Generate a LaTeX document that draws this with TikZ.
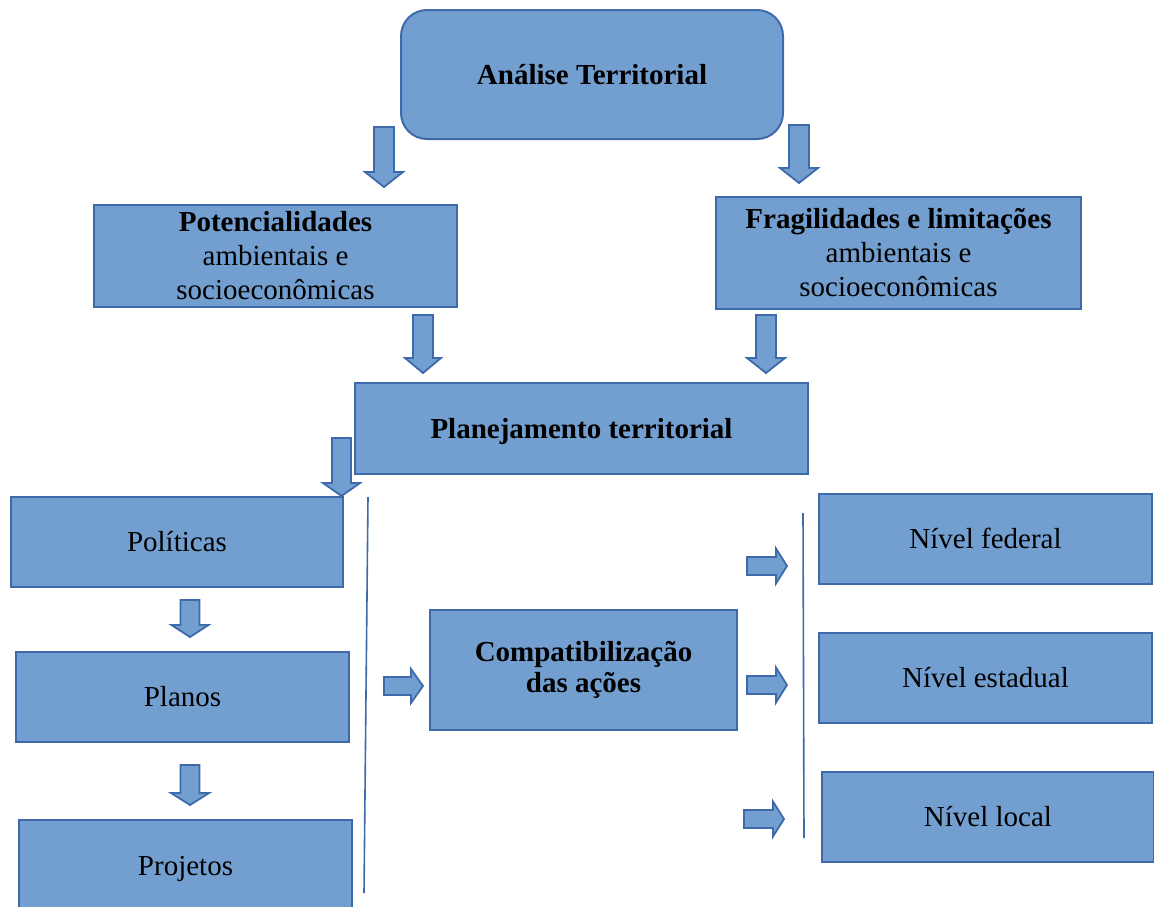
\documentclass[tikz,border=0pt]{standalone}
\usepackage{fontspec}
\setmainfont{Liberation Serif}
\definecolor{boxfill}{RGB}{114,159,207}
\definecolor{boxline}{RGB}{62,106,172}
\tikzset{
  box/.style={draw=boxline, fill=boxfill, line width=2pt, align=center, inner sep=0pt,
    font=\fontsize{29}{34}\selectfont},
  oneline/.style={box, text height=19.5pt, text depth=0pt},
  blockarrow/.style={draw=boxline, fill=boxfill, line width=1.8pt, line join=miter},
  sepline/.style={draw=boxline, line width=1.6pt}
}
% #1 cx, #2 top, #3 head start, #4 tip, #5 half head, #6 half shaft
\newcommand{\DArrow}[6]{%
  \draw[blockarrow] (#1-#6,#2) -- (#1+#6,#2) -- (#1+#6,#3) -- (#1+#5,#3) -- (#1,#4)
    -- (#1-#5,#3) -- (#1-#6,#3) -- cycle;}
% #1 left, #2 head start, #3 tip, #4 cy, #5 half head, #6 half shaft
\newcommand{\RArrow}[6]{%
  \draw[blockarrow] (#1,#4-#6) -- (#2,#4-#6) -- (#2,#4-#5) -- (#3,#4) -- (#2,#4+#5)
    -- (#2,#4+#6) -- (#1,#4+#6) -- cycle;}
\begin{document}
\begin{tikzpicture}[x=1pt,y=-1pt]
\useasboundingbox (0,0) rectangle (1154,906);
\clip (0,0) rectangle (1154,906);

% boxes
\node[oneline, rounded corners=26pt, minimum width=382pt, minimum height=129pt] (analise) at (592,74.5)
  {\textbf{Análise Territorial}};
\node[box, minimum width=363pt, minimum height=102pt] (pot) at (275.5,256)
  {\textbf{Potencialidades}\\ambientais e\\socioeconômicas};
\node[box, minimum width=365pt, minimum height=112pt] (frag) at (898.5,253)
  {\textbf{Fragilidades e limitações}\\ambientais e\\socioeconômicas};
\node[oneline, minimum width=453pt, minimum height=91pt] (plan) at (581.5,428.5)
  {\textbf{Planejamento territorial}};
\node[oneline, minimum width=332pt, minimum height=90pt] (politicas) at (177,542) {Políticas};
\node[oneline, minimum width=333pt, minimum height=90pt] (planos) at (182.5,697) {Planos};
\node[oneline, minimum width=333pt, minimum height=92pt] (projetos) at (185.5,866) {Projetos};
\node[box, font=\fontsize{29}{31.5}\selectfont, minimum width=307pt, minimum height=120pt] (compat) at (583.5,670)
  {\textbf{Compatibilização}\\\textbf{das ações}};
\node[oneline, minimum width=333pt, minimum height=90pt] (federal) at (985.5,539) {Nível federal};
\node[oneline, minimum width=333pt, minimum height=90pt] (estadual) at (985.5,678) {Nível estadual};
\node[oneline, minimum width=332pt, minimum height=90pt] (local) at (988,817) {Nível local};

% block arrows
\DArrow{384}{127}{172}{187}{19}{10}
\DArrow{799}{125}{168}{183}{19}{10}
\DArrow{423}{315}{358}{373}{18}{10}
\DArrow{766}{315}{358}{373}{19}{10}
\DArrow{341.5}{438}{483}{496}{18.5}{9.5}
\DArrow{190}{600}{625}{637}{18.5}{9.5}
\DArrow{190}{765}{793}{805}{19}{9.5}

\RArrow{384}{411}{423}{686}{17}{9}
\RArrow{747}{776}{787}{566}{17.5}{9}
\RArrow{747}{776}{787}{685}{17.5}{9}
\RArrow{744}{773}{784}{819}{17.5}{9}

% separator lines
\coordinate (l1a) at (368,497);
\coordinate (l1b) at (364,893);
\coordinate (l2a) at (803,513);
\coordinate (l2b) at (804,838);
\draw[sepline] (l1a) -- (l1b);
\draw[sepline] (l2a) -- (l2b);
\end{tikzpicture}
\end{document}
